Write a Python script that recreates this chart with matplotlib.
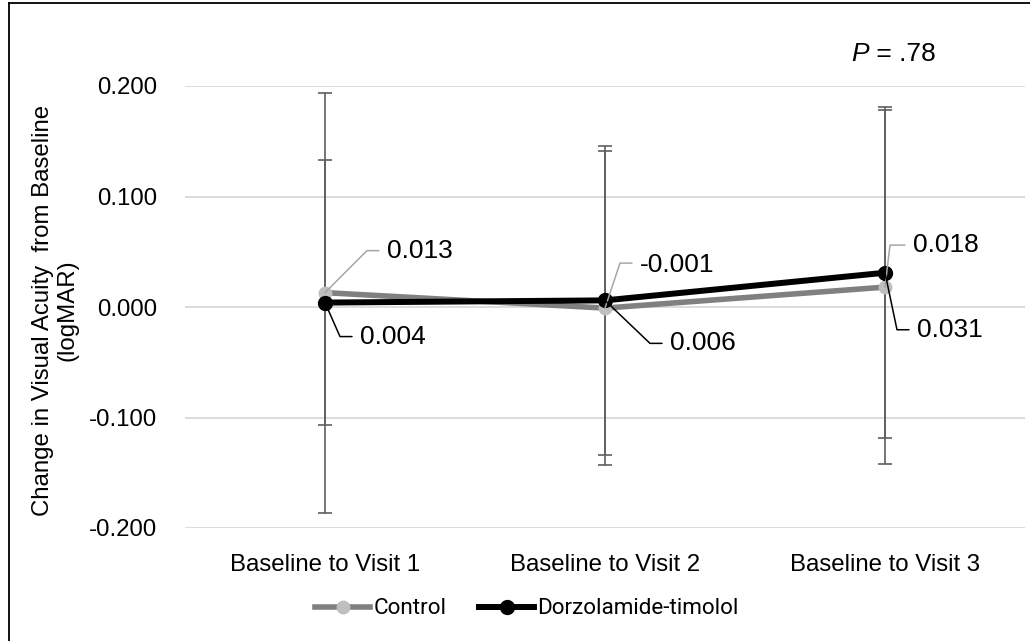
import math
import matplotlib
matplotlib.use("Agg")
import matplotlib.pyplot as plt
from matplotlib.lines import Line2D

# ---- data ----
categories = ["Baseline to Visit 1", "Baseline to Visit 2", "Baseline to Visit 3"]
control_mean = [0.013, -0.001, 0.018]
control_err = [0.120, 0.142, 0.160]
dorz_mean = [0.004, 0.006, 0.031]
dorz_err = [0.190, 0.140, 0.150]
yticks = [-0.2, -0.1, 0.0, 0.1, 0.2]
ytick_labels = ["-0.200", "-0.100", "0.000", "0.100", "0.200"]
p_text = " = .78"
series_names = ["Control", "Dorzolamide-timolol"]
ylabel = "Change in Visual Acuity  from Baseline\n(logMAR)"

# label placement (pixel offsets: text-left position, corner of leader)
ctrl_label_off = [((62, 42), (42, 42)), ((35, 43), (15, 45)), ((28, 42), (5, 42))]
dorz_label_off = [((35, -34), (15, -34)), ((65, -43), (45, -43)), ((32, -57), (12, -57))]

W, H = 1030, 641
fig = plt.figure(figsize=(W / 100, H / 100), dpi=100)
ax = fig.add_axes([185 / W, 1 - 528 / H, 840 / W, (528 - 86) / H])

x = list(range(len(categories)))
font = "Liberation Sans"
fs = 17.3
fs_lab = 19

ax.errorbar(x, dorz_mean, yerr=dorz_err, fmt="none", ecolor="#5f5f5f",
            elinewidth=1.2, capsize=5, capthick=1.2, zorder=2)
ax.errorbar(x, control_mean, yerr=control_err, fmt="none", ecolor="#5f5f5f",
            elinewidth=1.2, capsize=5, capthick=1.2, zorder=2)

ax.plot(x, control_mean, color="#808080", lw=4, marker="o", ms=9,
        mfc="#bfbfbf", mec="#bfbfbf", zorder=3, label=series_names[0])
ax.plot(x, dorz_mean, color="#000000", lw=4.3, marker="o", ms=10,
        mfc="#000000", mec="#000000", zorder=4, label=series_names[1])


def put_label(xi, yi, text, toff, coff, color):
    tx, ty = toff
    cx, cy = coff
    ax.annotate(text, xy=(xi, yi), xytext=(tx, ty), textcoords="offset pixels",
                ha="left", va="center", fontsize=fs_lab, family=font, color="black",
                zorder=6)
    # leader line: point -> corner -> near text
    gap = tx - cx
    ax.annotate("", xy=(xi, yi), xytext=(cx + gap - 8, cy), textcoords="offset pixels",
                arrowprops=dict(arrowstyle="-", color=color, lw=1.1,
                                shrinkA=0, shrinkB=0,
                                connectionstyle="angle,angleA=0,angleB=%f,rad=0"
                                % math.degrees(math.atan2(cy, cx))),
                zorder=5)


for i in x:
    put_label(i, control_mean[i], "%.3f" % control_mean[i], *ctrl_label_off[i], "#a6a6a6")
    put_label(i, dorz_mean[i], "%.3f" % dorz_mean[i], *dorz_label_off[i], "#000000")

ax.set_xlim(-0.5, len(categories) - 0.5)
ax.set_ylim(-0.2, 0.2)
ax.set_yticks(yticks)
ax.set_yticklabels(ytick_labels, family=font, fontsize=fs)
ax.set_xticks(x)
ax.set_xticklabels(categories, family=font, fontsize=fs)
ax.tick_params(axis="y", length=0, pad=20)
ax.tick_params(axis="x", length=0, pad=19)
ax.grid(axis="y", color="#d9d9d9", lw=1.3)
ax.set_axisbelow(True)
for s in ax.spines.values():
    s.set_visible(False)

fig.text(55 / W, 1 - 310 / H, ylabel, rotation=90, ha="center", va="center",
         family=font, fontsize=fs, linespacing=1.15)

pt = fig.text(851 / W, 1 - 54 / H, "P", style="italic", family=font, fontsize=19,
              ha="left", va="center")
ax.annotate(p_text, xy=(1, 0), xycoords=pt, ha="left", va="bottom",
            family=font, fontsize=19)

leg = fig.legend(loc="center", bbox_to_anchor=(527 / W, 1 - 609 / H), ncol=2,
                 frameon=False, prop={"family": "Roboto", "size": 16.2},
                 handlelength=2.44, handletextpad=0.15, columnspacing=1.45)

# figure border (left and top visible)
fig.add_artist(Line2D([8.5 / W, 8.5 / W], [0, 1 - 3 / H], color="black", lw=1.3,
                      transform=fig.transFigure))
fig.add_artist(Line2D([8.5 / W, 1], [1 - 3 / H, 1 - 3 / H], color="black", lw=1.3,
                      transform=fig.transFigure))

fig.savefig("out.png", dpi=100)
